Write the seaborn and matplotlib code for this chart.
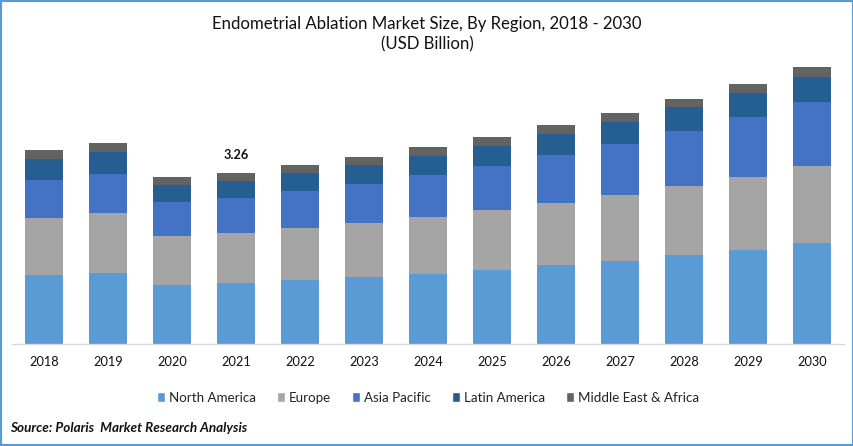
import numpy as np
import pandas as pd
import matplotlib
matplotlib.use('Agg')
import matplotlib.pyplot as plt
from matplotlib.patches import Patch, Rectangle
import seaborn as sns

years = [2018, 2019, 2020, 2021, 2022, 2023, 2024, 2025, 2026, 2027, 2028, 2029, 2030]
north_america = [1.32, 1.35, 1.13, 1.16, 1.22, 1.28, 1.33, 1.41, 1.51, 1.58, 1.70, 1.79, 1.93]
europe = [1.09, 1.14, 0.93, 0.95, 0.99, 1.03, 1.09, 1.14, 1.18, 1.26, 1.32, 1.39, 1.47]
asia_pacific = [0.72, 0.76, 0.65, 0.67, 0.71, 0.74, 0.80, 0.84, 0.92, 0.97, 1.05, 1.14, 1.22]
latin_america = [0.40, 0.42, 0.32, 0.32, 0.34, 0.36, 0.36, 0.38, 0.40, 0.42, 0.44, 0.46, 0.48]
middle_east = [0.17, 0.17, 0.15, 0.16, 0.15, 0.15, 0.17, 0.17, 0.17, 0.17, 0.17, 0.17, 0.19]

regions = ['North America', 'Europe', 'Asia Pacific', 'Latin America', 'Middle East & Africa']
colors = ['#5B9BD5', '#A5A5A5', '#4472C4', '#255E91', '#636363']
series = [north_america, europe, asia_pacific, latin_america, middle_east]

sns.set_theme(style='white')
plt.rcParams['font.family'] = ['Lato', 'DejaVu Sans']

fig = plt.figure(figsize=(8.54, 4.46), dpi=100)
ax = fig.add_axes([12 / 854, 1 - 344 / 446, 832 / 854, 344 / 446])

# stack the regions one on top of the other
bottom = np.zeros(len(years))
for name, vals, c in zip(regions, series, colors):
    df = pd.DataFrame({'year': years, 'value': vals})
    sns.barplot(data=df, x='year', y='value', color=c, saturation=1, width=0.59,
                errorbar=None, bottom=bottom, linewidth=0, ax=ax)
    bottom = bottom + np.array(vals)

ax.set_xlim(-0.5, 12.5)
ax.set_ylim(0, 344 / 52.45)
ax.set_xlabel('')
ax.set_ylabel('')
ax.set_yticks([])
ax.tick_params(axis='x', length=0, pad=9, labelsize=9.2, labelcolor='#111111')
sns.despine(ax=ax, left=True)
ax.spines['bottom'].set_color('#D9D9D9')
ax.spines['bottom'].set_linewidth(1)
ax.patch.set_alpha(0)

# value label for 2021
ax.text(3, 3.26 + 0.34, '3.26', ha='center', va='center', fontsize=9.2,
        fontweight='bold', color='#111111')

fig.text(0.5, 1 - 24 / 446, 'Endometrial Ablation Market Size, By Region, 2018 - 2030',
         ha='center', va='center', fontsize=12.1, color='#111111')
fig.text(0.5, 1 - 44.5 / 446, '(USD Billion)', ha='center', va='center', fontsize=12.1, color='#111111')

handles = [Patch(facecolor=c, label=n) for n, c in zip(regions, colors)]
fig.legend(handles=handles, loc='center', bbox_to_anchor=(428 / 854, 1 - 397.5 / 446), ncol=5, frameon=False,
           fontsize=9.6, handlelength=0.62, handleheight=0.85, handletextpad=0.3, columnspacing=1.55,
           labelcolor='#222222')

fig.text(10 / 854, 1 - 428 / 446, 'Source: Polaris  Market Research Analysis', ha='left', va='center',
         fontsize=9.7, fontweight='bold', fontstyle='italic', color='#111111')

# blue frame around the picture
fig.add_artist(Rectangle((0, 0), 1, 1, transform=fig.transFigure, fill=False,
                         edgecolor='#5B9BD5', linewidth=3, joinstyle='miter'))

fig.savefig('out.png', dpi=100)
